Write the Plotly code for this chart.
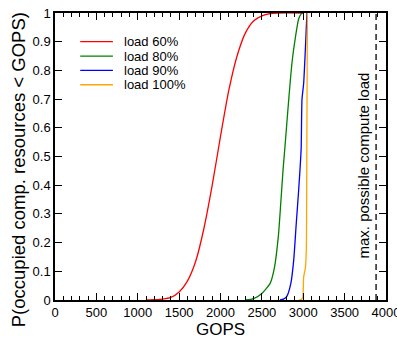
import plotly.graph_objects as go

# ---- data ----
names = ["load 60%", "load 80%", "load 90%", "load 100%"]
colors = ["#ff0000", "#008000", "#0000ff", "#ffa500"]

x60 = [1100, 1200, 1300, 1400, 1500, 1600, 1700, 1800, 1900, 2000, 2100, 2200, 2300, 2400, 2500, 2600, 2700, 3000]
y60 = [0, 0.001, 0.003, 0.009, 0.028, 0.066, 0.135, 0.25, 0.40, 0.57, 0.73, 0.85, 0.93, 0.972, 0.99, 0.998, 1, 1]

x80 = [2300, 2400, 2500, 2600, 2650, 2700, 2730, 2755, 2775, 2800, 2825, 2865, 2905, 2945, 2975, 3000]
y80 = [0, 0.005, 0.023, 0.058, 0.11, 0.225, 0.345, 0.45, 0.52, 0.61, 0.70, 0.83, 0.915, 0.98, 0.997, 1]

x90 = [2720, 2760, 2800, 2850, 2885, 2915, 2945, 2965, 2975, 2985, 3005, 3025, 3037, 3045]
y90 = [0, 0.003, 0.012, 0.058, 0.14, 0.265, 0.385, 0.475, 0.53, 0.70, 0.755, 0.87, 0.95, 1]

x100 = [2950, 2990, 3000, 3005, 3025, 3037, 3041, 3045, 3050]
y100 = [0, 0.005, 0.035, 0.08, 0.11, 0.175, 0.35, 0.65, 1]

max_load = 3880
max_label = "max. possible compute load"
x_ticks = [0, 500, 1000, 1500, 2000, 2500, 3000, 3500, 4000]
y_ticks = [0, 0.1, 0.2, 0.3, 0.4, 0.5, 0.6, 0.7, 0.8, 0.9, 1]
y_tick_text = ["0", "0.1", "0.2", "0.3", "0.4", "0.5", "0.6", "0.7", "0.8", "0.9", "1"]

series_x = [x60, x80, x90, x100]
series_y = [y60, y80, y90, y100]

FONT = "Liberation Sans, Arial, Helvetica, sans-serif"

W, H = 397, 339
ML, MR, MT, MB = 55, 11, 12.5, 39
PW, PH = W - ML - MR, H - MT - MB

fig = go.Figure()
for n, c, xs, ys in zip(names, colors, series_x, series_y):
    fig.add_trace(go.Scatter(x=xs, y=ys, mode="lines", name=n,
                             line=dict(color=c, width=1.3, shape="spline", smoothing=0.6),
                             showlegend=False))

# dashed max line
fig.add_trace(go.Scatter(x=[max_load, max_load], y=[0, 1], mode="lines",
                         line=dict(color="black", width=1.3, dash="6px,4px"),
                         showlegend=False, hoverinfo="skip"))

# manual legend (matches reference spacing)
leg_y = [0.9, 0.85, 0.8, 0.75]
for n, c, ly in zip(names, colors, leg_y):
    fig.add_shape(type="line", x0=305, x1=700, y0=ly, y1=ly, xref="x", yref="y",
                  line=dict(color=c, width=1.3))
    fig.add_annotation(x=810, y=ly, xref="x", yref="y", text=n, showarrow=False,
                       xanchor="left", yanchor="middle",
                       font=dict(family=FONT, size=13, color="black"))

fig.add_annotation(x=3727, y=0.47, xref="x", yref="y", text=max_label, showarrow=False,
                   textangle=-90, xanchor="center", yanchor="middle",
                   font=dict(family=FONT, size=15, color="black"))

# y title as annotation (positioned in page pixels, converted to paper)
fig.add_annotation(x=(18 - ML) / PW, y=(H - MB - 170) / PH, xref="paper", yref="paper",
                   text="P(occupied comp. resources < GOPS)",
                   showarrow=False, textangle=-90, xanchor="center", yanchor="middle",
                   font=dict(family=FONT, size=18.5, color="black"))

fig.update_layout(
    width=W, height=H,
    margin=dict(l=ML, r=MR, t=MT, b=MB, autoexpand=False),
    plot_bgcolor="white", paper_bgcolor="white",
    font=dict(family=FONT, size=13, color="black"),
)

fig.update_xaxes(range=[0, 4000], tickvals=x_ticks, ticks="inside", ticklen=7, tickwidth=1.2,
                 tickcolor="black", showline=True, linecolor="black", linewidth=1.5,
                 mirror="ticks", showgrid=False, zeroline=False, automargin=False,
                 ticklabeloverflow="allow",
                 minor=dict(dtick=100, ticks="inside", ticklen=4, tickcolor="black", tickwidth=1),
                 title=dict(text="GOPS", font=dict(family=FONT, size=17), standoff=2),
                 tickfont=dict(family=FONT, size=13))
fig.update_yaxes(range=[0, 1], tickvals=y_ticks, ticktext=y_tick_text, ticks="inside", ticklen=7,
                 tickwidth=1.2, tickcolor="black", showline=True, linecolor="black", linewidth=1.5,
                 mirror="ticks", showgrid=False, zeroline=False, automargin=False,
                 ticklabeloverflow="allow",
                 tickfont=dict(family=FONT, size=13))

# remove the browser's default 8px page margin so the figure fills the window
fig.write_html("out.html", config={"displayModeBar": False},
               post_script="document.body.style.margin='0';")
